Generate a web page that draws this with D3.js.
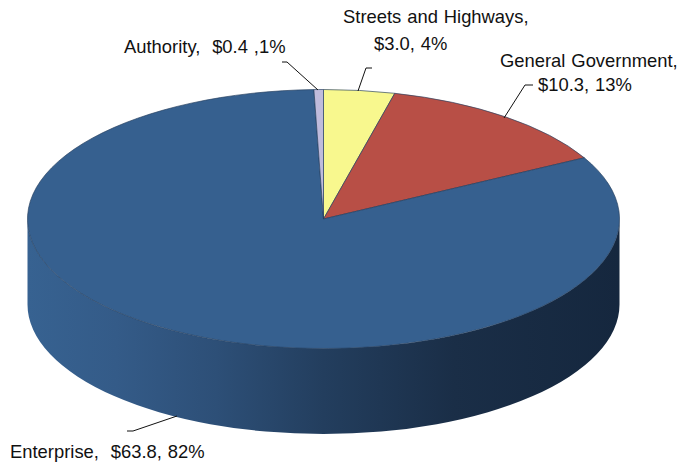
<!DOCTYPE html>
<html>
<head>
<meta charset="utf-8">
<script src="https://cdn.jsdelivr.net/npm/d3@7"></script>
<style>
  html, body { margin: 0; padding: 0; background: #fff; }
  text { font-family: "Liberation Sans", Arial, sans-serif; font-size: 18.4px; word-spacing: 0.8px; fill: #111; white-space: pre; }
</style>
</head>
<body>
<svg id="chart" width="681" height="462"></svg>
<script>
// Budget shares, clockwise from twelve o'clock
const categories = ["Streets and Highways", "General Government", "Enterprise", "Authority"];
const amounts = [3.0, 10.3, 63.8, 0.4];
const sliceColors = ["#f8f88e", "#b84f46", "#36608f", "#bfbbdc"];

// Label placement for each callout, one entry per text line
const labelLines = [
  { text: "Streets and Highways,", x: 343, y: 23 },
  { text: "$3.0, 4%", x: 374, y: 50 },
  { text: "General Government,", x: 500, y: 67 },
  { text: "$10.3, 13%", x: 538, y: 91 },
  { text: "Enterprise,  $63.8, 82%", x: 10, y: 458 },
  { text: "Authority,  $0.4 ,1%", x: 124, y: 53 }
];
const leaderLines = [
  [[372, 68], [366, 68], [358, 91]],
  [[533, 85], [525, 85], [504, 118]],
  [[127, 431], [133, 431], [177, 416]],
  [[282, 62], [287, 62], [318, 90]]
];

// Disc geometry: ellipse of the top face and extrusion depth
const cx = 323.5, cy = 219, rx = 296, ry = 129.5, depth = 85.5;

const svg = d3.select("#chart");

const sideGradient = svg.append("defs").append("linearGradient")
  .attr("id", "side")
  .attr("gradientUnits", "userSpaceOnUse")
  .attr("x1", cx - rx).attr("x2", cx + rx).attr("y1", 0).attr("y2", 0);
sideGradient.selectAll("stop")
  .data([[0, "#376291"], [0.15, "#345b88"], [0.32, "#2d4f77"], [0.5, "#233e5e"], [0.72, "#1a2e47"], [1, "#15273e"]])
  .join("stop")
  .attr("offset", d => d[0])
  .attr("stop-color", d => d[1]);

// Outer wall of the disc: the lower half of the rim swept down by the depth
const wall = d3.path();
wall.moveTo(cx - rx, cy);
wall.lineTo(cx - rx, cy + depth);
const wallPath = wall.toString() +
  `A${rx},${ry} 0 0 0 ${cx + rx},${cy + depth}` +
  `L${cx + rx},${cy}` +
  `A${rx},${ry} 0 0 1 ${cx - rx},${cy}Z`;
svg.append("path").attr("d", wallPath).attr("fill", "url(#side)");

// Top face: a regular pie squashed vertically into the ellipse
const pie = d3.pie().sort(null).value(d => d);
const arc = d3.arc().innerRadius(0).outerRadius(rx);
svg.append("g")
  .attr("transform", `translate(${cx},${cy}) scale(1,${ry / rx})`)
  .selectAll("path")
  .data(pie(amounts))
  .join("path")
  .attr("d", arc)
  .attr("fill", (d, i) => sliceColors[i])
  .attr("stroke", "#27405f")
  .attr("stroke-opacity", 0.75)
  .attr("stroke-width", 0.9)
  .attr("stroke-linejoin", "round")
  .attr("vector-effect", "non-scaling-stroke")
  .append("title").text((d, i) => categories[i]);

const leader = d3.line();
svg.append("g")
  .selectAll("path")
  .data(leaderLines)
  .join("path")
  .attr("d", leader)
  .attr("fill", "none")
  .attr("stroke", "#111")
  .attr("stroke-width", 1);

svg.append("g")
  .selectAll("text")
  .data(labelLines)
  .join("text")
  .attr("x", d => d.x)
  .attr("y", d => d.y)
  .text(d => d.text);
</script>
</body>
</html>
